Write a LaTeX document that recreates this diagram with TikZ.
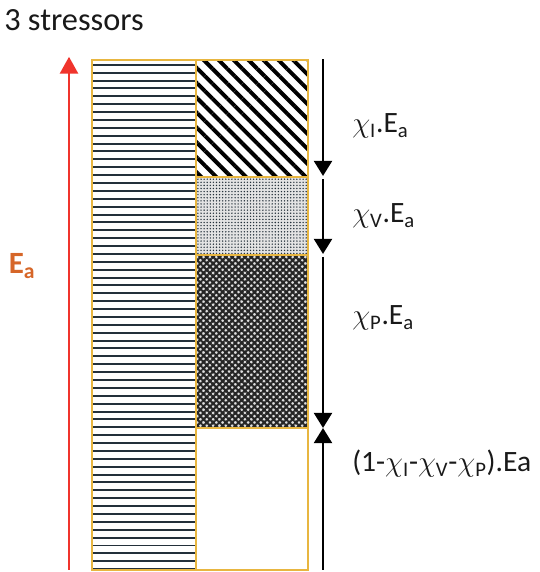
\documentclass[tikz,border=0pt]{standalone}
\usepackage{fontspec}
\setmainfont{Carlito}
\usetikzlibrary{arrows.meta, patterns.meta, positioning}
\definecolor{boxgold}{RGB}{232,182,64}
\definecolor{hatchink}{RGB}{35,48,58}
\definecolor{eaorange}{RGB}{214,102,40}
\definecolor{eared}{RGB}{240,52,44}
\tikzset{
  labeltext/.style={anchor=west, inner sep=0pt, text=black!90, font=\fontsize{21}{25}\selectfont},
  segarrow/.style={line width=1.9pt, -{Triangle[width=0.45cm, length=0.38cm]}},
  cell/.style={draw=boxgold, line width=1.4pt}
}
\newcommand{\chisub}[1]{$\chi$\textsubscript{#1}}

\begin{document}
\begin{tikzpicture}
    \useasboundingbox (0,0) rectangle (13.475,14.3);

    % left column: horizontal lines
    \fill[white] (2.3,0.05) rectangle (4.9,12.8);
    \foreach \i in {0,...,64}
      \draw[hatchink, line width=1.4pt] (2.3,12.68-\i*0.197) -- (4.9,12.68-\i*0.197);
    \draw[cell] (2.3,0.05) rectangle (4.9,12.8);

    % right column
    \fill[pattern={Lines[angle=-45, distance=7.5pt, line width=2.8pt]}, pattern color=black] (4.9,9.875) rectangle (7.7,12.8);
    \fill[gray!22] (4.9,7.925) rectangle (7.7,9.875);
    \fill[pattern={Dots[distance=2.2pt, radius=0.55pt]}, pattern color=hatchink] (4.9,7.925) rectangle (7.7,9.875);
    \fill[gray!25] (4.9,3.6) rectangle (7.7,7.925);
    \fill[pattern={Hatch[angle=45, distance=3.2pt, line width=1.5pt]}, pattern color=black!85] (4.9,3.6) rectangle (7.7,7.925);
    \draw[cell] (4.9,9.875) rectangle (7.7,12.8);
    \draw[cell] (4.9,7.925) rectangle (7.7,9.875);
    \draw[cell] (4.9,3.6) rectangle (7.7,7.925);
    \draw[cell] (4.9,0.05) rectangle (7.7,3.6);

    % arrow ends
    \coordinate (eabot) at (1.725,0.05);
    \coordinate (eatop) at (1.725,12.88);
    \coordinate (s0) at (8.075,12.82);
    \coordinate (s1) at (8.075,9.9);
    \coordinate (s1b) at (8.075,9.82);
    \coordinate (s2) at (8.075,7.95);
    \coordinate (s2b) at (8.075,7.88);
    \coordinate (s3) at (8.075,3.6);
    \coordinate (s4) at (8.075,0.05);

    \draw[eared, line width=1.7pt, -{Triangle[width=0.45cm, length=0.42cm]}] (eabot) -- (eatop);
    \draw[segarrow] (s0) -- (s1);
    \draw[segarrow] (s1b) -- (s2);
    \draw[segarrow] (s2b) -- (s3);
    \draw[segarrow] (s4) -- (s3);

    % labels
    \node[anchor=west, inner sep=0pt, text=black!90, font=\fontsize{23}{27}\selectfont] (title) at (0.1,13.8) {3 stressors};
    \node[inner sep=0pt, text=eaorange, font=\fontsize{22}{26}\selectfont\bfseries] (ea) at (0.55,7.65) {E\textsubscript{a}};
    \node[labeltext] (lbi) at (8.8,11.15) {\chisub{I}.E\textsubscript{a}};
    \node[labeltext] (lbv) at (8.8,8.9) {\chisub{V}.E\textsubscript{a}};
    \node[labeltext] (lbp) at (8.8,6.35) {\chisub{P}.E\textsubscript{a}};
    \node[labeltext] (lbr) at (8.8,2.7) {(1-\chisub{I}-\chisub{V}-\chisub{P}).Ea};
\end{tikzpicture}
\end{document}
